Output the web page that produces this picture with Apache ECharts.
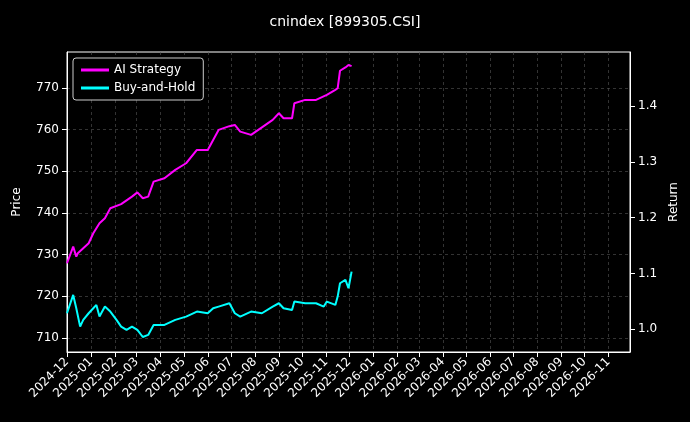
<!DOCTYPE html>
<html>
<head>
<meta charset="utf-8">
<script src="https://cdn.jsdelivr.net/npm/echarts@6/dist/echarts.min.js"></script>
<style>html,body{margin:0;background:#000}#chart{width:690px;height:422px}</style>
</head>
<body>
<div id="chart"></div>
<script>
const aiDates = ['2024-12-01','2024-12-09','2024-12-13','2024-12-15','2024-12-22','2024-12-29','2025-01-04','2025-01-12','2025-01-19','2025-01-26','2025-02-09','2025-02-23','2025-03-02','2025-03-09','2025-03-16','2025-03-23','2025-04-06','2025-04-20','2025-05-04','2025-05-18','2025-06-01','2025-06-08','2025-06-15','2025-06-29','2025-07-06','2025-07-13','2025-07-27','2025-08-10','2025-08-24','2025-09-01','2025-09-07','2025-09-18','2025-09-21','2025-10-05','2025-10-19','2025-11-02','2025-11-13','2025-11-16','2025-11-19','2025-11-26','2025-11-30','2025-12-04'];
const aiValues = [727.9,731.9,729.5,730.3,731.5,732.7,735.1,737.5,738.7,741.1,742.1,743.9,744.9,743.5,743.9,747.5,748.3,750.3,751.9,755.1,755.1,757.5,759.9,760.8,761.1,759.5,758.7,760.5,762.3,763.9,762.7,762.7,766.3,767.1,767.1,768.3,769.5,769.9,774.1,774.9,775.5,775.2];
const bhDates = ['2024-12-01','2024-12-09','2024-12-13','2024-12-15','2024-12-18','2024-12-22','2024-12-29','2025-01-04','2025-01-08','2025-01-12','2025-01-19','2025-01-26','2025-02-03','2025-02-09','2025-02-16','2025-02-23','2025-03-02','2025-03-09','2025-03-16','2025-03-23','2025-04-06','2025-04-20','2025-05-04','2025-05-18','2025-06-01','2025-06-08','2025-06-15','2025-06-29','2025-07-06','2025-07-13','2025-07-27','2025-08-10','2025-08-24','2025-09-01','2025-09-07','2025-09-18','2025-09-21','2025-10-05','2025-10-19','2025-10-29','2025-11-02','2025-11-13','2025-11-16','2025-11-19','2025-11-26','2025-11-30','2025-12-04'];
const bhValues = [715.9,720.3,717.1,717.5,712.7,714.3,715.9,717.1,717.9,715.1,717.5,716.3,714.3,712.7,711.9,712.7,711.9,710.2,710.7,713.1,713.1,714.3,715.1,716.3,715.9,717.1,717.5,718.3,715.9,715.1,716.3,715.9,717.5,718.3,717.1,716.7,718.7,718.3,718.3,717.5,718.7,717.9,719.9,723.1,723.9,721.9,725.9];
const priceTicks = [710,720,730,740,750,760,770];
const returnTicks = [1.0,1.1,1.2,1.3,1.4];

const chart = echarts.init(document.getElementById('chart'));
const font = 'DejaVu Sans';
const gridLine = { show: true, lineStyle: { color: '#555', type: [3, 3], width: 0.6 } };
chart.setOption({
  backgroundColor: '#000',
  textStyle: { fontFamily: font },
  title: { text: 'cnindex [899305.CSI]', left: 'center', top: 10,
    textStyle: { color: '#fff', fontSize: 14, fontWeight: 'normal', fontFamily: font } },
  legend: {
    left: 73, top: 58, orient: 'vertical', itemGap: 6, itemWidth: 28, itemHeight: 3,
    backgroundColor: '#000', borderColor: '#ccc', borderWidth: 1, borderRadius: 3, padding: [6, 8],
    textStyle: { color: '#fff', fontSize: 12, fontFamily: font },
    icon: 'rect',
    data: ['AI Strategy', 'Buy-and-Hold']
  },
  grid: { left: 67, right: 60, top: 52, bottom: 70, show: true, borderColor: '#fff', borderWidth: 1 },
  xAxis: {
    type: 'time', min: '2024-12-01', max: '2026-11-29',
    minInterval: 28 * 86400000, maxInterval: 31 * 86400000,
    axisLine: { lineStyle: { color: '#fff' } },
    axisTick: { lineStyle: { color: '#fff' } },
    axisLabel: { color: '#fff', rotate: 45, fontSize: 12, formatter: '{yyyy}-{MM}', hideOverlap: false },
    splitLine: gridLine
  },
  yAxis: [{
    type: 'value', min: 706.6, max: 778.6, name: 'Price', nameLocation: 'middle', nameGap: 44,
    nameTextStyle: { color: '#fff', fontSize: 12 },
    axisLine: { show: true, lineStyle: { color: '#fff' } },
    axisTick: { show: true, customValues: priceTicks, lineStyle: { color: '#fff' } },
    axisLabel: { color: '#fff', fontSize: 12, customValues: priceTicks },
    splitLine: gridLine
  }, {
    type: 'value', min: 0.959, max: 1.497, name: 'Return', nameLocation: 'middle', nameGap: 38,
    nameTextStyle: { color: '#fff', fontSize: 12 },
    axisLine: { show: true, lineStyle: { color: '#fff' } },
    axisTick: { show: true, customValues: returnTicks, lineStyle: { color: '#fff' } },
    axisLabel: { color: '#fff', fontSize: 12, customValues: returnTicks, formatter: v => v.toFixed(1) },
    splitLine: { show: false }
  }],
  series: [{
    name: 'AI Strategy', type: 'line', showSymbol: false, color: '#ff00ff',
    lineStyle: { width: 2 }, data: aiDates.map((d, i) => [d, aiValues[i]])
  }, {
    name: 'Buy-and-Hold', type: 'line', showSymbol: false, color: '#00ffff',
    lineStyle: { width: 2 }, data: bhDates.map((d, i) => [d, bhValues[i]])
  }]
});
</script>
</body>
</html>
